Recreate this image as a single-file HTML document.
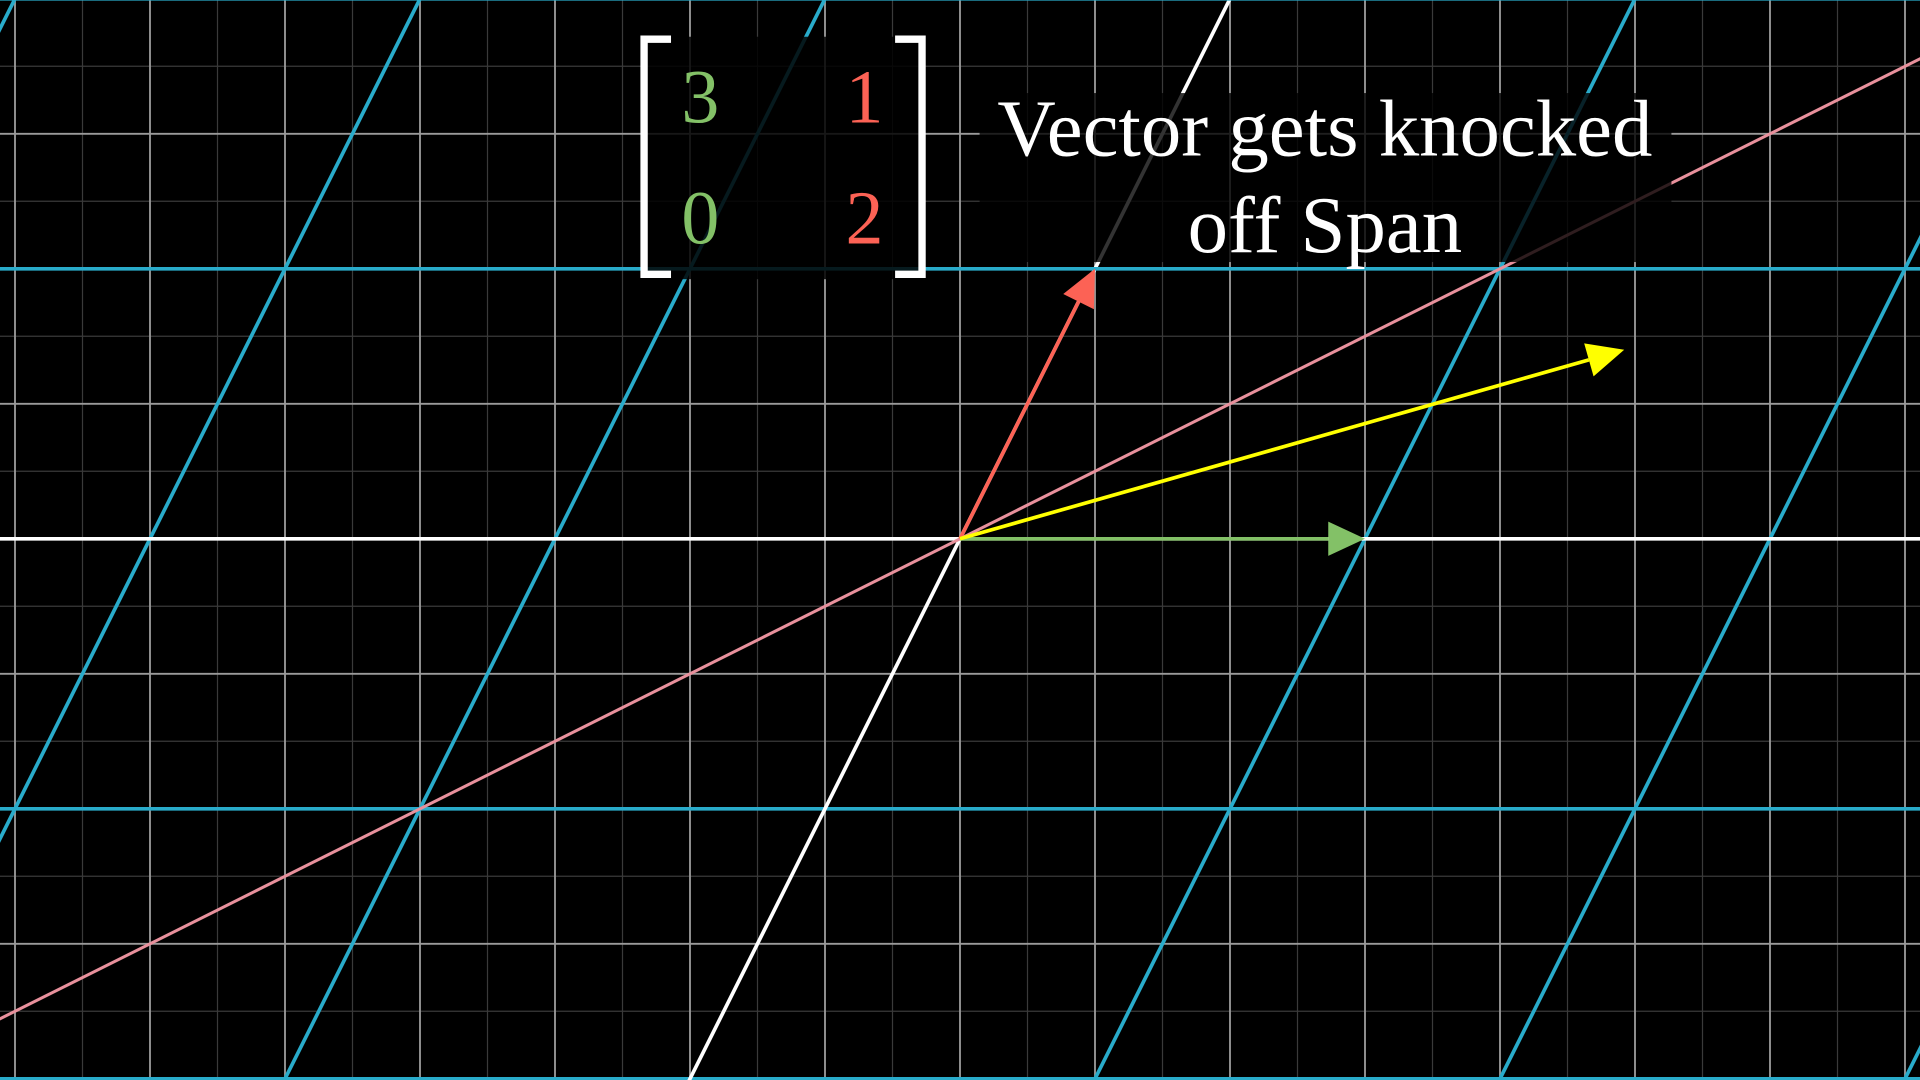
<!DOCTYPE html>
<html><head><meta charset="utf-8"><style>
html,body{margin:0;padding:0;background:#000;overflow:hidden;width:1920px;height:1080px}
svg{display:block}
</style></head><body>
<svg id="c" width="1920" height="1080" viewBox="0 0 1568 882" preserveAspectRatio="none" xmlns="http://www.w3.org/2000/svg">
<rect width="1568" height="882" fill="#000"/>
<g id="minor"></g><g id="major"></g><g id="trans"></g><g id="vecs"></g>
<g id="labels">
<rect x="525" y="30" width="228" height="198" fill="#000" fill-opacity="0.85"/>
<rect x="800" y="76" width="565" height="138" fill="#000" fill-opacity="0.8"/>
<path d="M548 32 H526 V224 H548" fill="none" stroke="#fff" stroke-width="6"/>
<path d="M731 32 H753 V224 H731" fill="none" stroke="#fff" stroke-width="6"/>
<g font-family="'Liberation Serif',serif" font-size="62" text-anchor="middle">
<text x="572" y="100" fill="#83c167">3</text>
<text x="706" y="100" fill="#fc6255">1</text>
<text x="572" y="199" fill="#83c167">0</text>
<text x="706" y="199" fill="#fc6255">2</text>
<text x="1082" y="127" fill="#fff" font-size="66">Vector gets knocked</text>
<text x="1082" y="206" fill="#fff" font-size="66">off Span</text>
</g></g>
</svg>
<script>
const matrix = [3, 1, 0, 2];
const vectorTips = [[3, 0], [1, 2], [4.92, 1.4]];
const vectorNames = ['i-hat-vector', 'j-hat-vector', 'yellow-vector'];
const vectorColors = ['#83c167', '#fc6255', '#ffff00'];
const spanDir = [2, 1];
const NS = 'http://www.w3.org/2000/svg';
const U = 110.25, OX = 784, OY = 440;
const sx = x => OX + x * U, sy = y => OY - y * U;
function line(g, x1, y1, x2, y2, col, w, name) {
  const l = document.createElementNS(NS, 'line');
  l.setAttribute('x1', x1); l.setAttribute('y1', y1); l.setAttribute('x2', x2); l.setAttribute('y2', y2);
  l.setAttribute('stroke', col); l.setAttribute('stroke-width', w);
  
  
  document.getElementById(g).appendChild(l);
}
for (let k = -16; k <= 16; k++) {
  const v = k / 2;
  const maj = k % 2 === 0;
  line(maj ? 'major' : 'minor', sx(v), 0, sx(v), 882, maj ? '#9a9a9a' : '#3a3a3a', maj ? 1.5 : 1, 'grid-vertical-line');
  line(maj ? 'major' : 'minor', 0, sy(v), 1568, sy(v), maj ? '#9a9a9a' : '#3a3a3a', maj ? 1.5 : 1, 'grid-horizontal-line');
}
for (let k = -5; k <= 5; k++) {
  const y = matrix[3] * k;
  if (k !== 0) line('trans', 0, sy(y), 1568, sy(y), '#29abca', 3, 'transformed-horizontal-line');
  const x0 = matrix[0] * k;
  const ax = x0 + matrix[1] * -4, ay = matrix[3] * -4, bx = x0 + matrix[1] * 4, by = matrix[3] * 4;
  line('trans', sx(ax), sy(ay), sx(bx), sy(by), k === 0 ? '#ffffff' : '#29abca', 3, k === 0 ? 'transformed-y-axis' : 'transformed-slanted-line');
}
line('trans', 0, OY, 1568, OY, '#ffffff', 3, 'transformed-x-axis');
line('trans', sx(-spanDir[0] * 4), sy(-spanDir[1] * 4), sx(spanDir[0] * 4), sy(spanDir[1] * 4), '#e8909c', 2.5, 'span-line');
vectorTips.forEach((t, i) => {
  const x2 = sx(t[0]), y2 = sy(t[1]);
  const dx = x2 - OX, dy = y2 - OY, L = Math.hypot(dx, dy), ux = dx / L, uy = dy / L;
  const h = 30, w = 14;
  const bx = x2 - ux * h, by = y2 - uy * h;
  line('vecs', OX, OY, bx, by, vectorColors[i], 3, vectorNames[i] + '-shaft');
  const p = document.createElementNS(NS, 'polygon');
  p.setAttribute('points', `${x2},${y2} ${bx - uy * w},${by + ux * w} ${bx + uy * w},${by - ux * w}`);
  p.setAttribute('fill', vectorColors[i]);
  
  
  document.getElementById('vecs').appendChild(p);
});
</script>
</body></html>
